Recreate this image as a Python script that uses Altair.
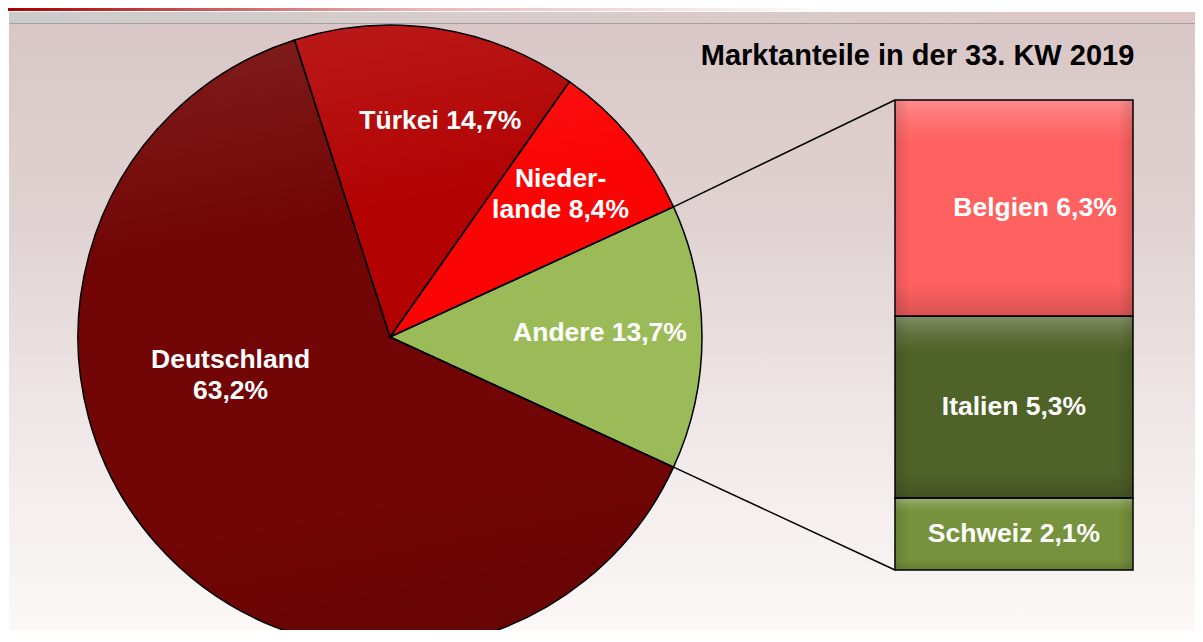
import math
import altair as alt
import pandas as pd

# ---------------- data ----------------
pie_names = ["Türkei", "Niederlande", "Andere", "Deutschland"]
pie_label_names = ["Türkei", "Nieder-\nlande", "Andere", "Deutschland"]
pie_label_sep = [" ", " ", " ", "\n"]
pie_values = [14.7, 8.4, 13.7, 63.2]
pie_colors = ["#b30202", "#fb0404", "#9bbb59", "#720505"]

bar_names = ["Belgien", "Italien", "Schweiz"]
bar_values = [6.3, 5.3, 2.1]
bar_colors = ["#ff6060", "#4f6228", "#76923c"]

title_text = "Marktanteile in der 33. KW 2019"
FONT = "Liberation Sans"


def pct(v):
    return f"{v:.1f}%".replace(".", ",")


# ---------------- layout ----------------
W, H = 1187, 622
CX, CY, R = 382, 329, 312
BAR_X0, BAR_X1, BAR_TOP, BAR_BOTTOM = 887, 1125, 92, 562
BAR_XC = (BAR_X0 + BAR_X1) / 2
LINE_H = 31

PIE_TOTAL = sum(pie_values)
BAR_TOTAL = sum(bar_values)
idx_other = pie_names.index("Andere")
before_other = sum(pie_values[:idx_other])
# rotate the pie so that the "Andere" slice is centred at 3 o'clock
START = math.pi / 2 - 2 * math.pi * (before_other + pie_values[idx_other] / 2) / PIE_TOTAL

labels = [n + s + pct(v) for n, s, v in zip(pie_label_names, pie_label_sep, pie_values)]
pie_df = pd.DataFrame({
    "name": pie_names,
    "value": pie_values,
    "ord": list(range(len(pie_names))),
    "label": labels,
})
cum = 0.0
mids = []
for v in pie_values:
    mids.append(START + 2 * math.pi * (cum + v / 2) / PIE_TOTAL)
    cum += v

# label placement (radius, dx, dy) per slice
label_place = {"Türkei": (222, 17, 3), "Niederlande": (222, 0, 0),
               "Andere": (210, 0, -4), "Deutschland": (165, -36, -71)}
pie_df["lx"] = [CX + label_place[n][0] * math.sin(m) + label_place[n][1]
                for n, m in zip(pie_names, mids)]
pie_df["ly"] = [CY - label_place[n][0] * math.cos(m) + label_place[n][2]
                - LINE_H / 2 * lab.count("\n")
                for n, m, lab in zip(pie_names, mids, labels)]

bar_df = pd.DataFrame({
    "name": bar_names,
    "value": bar_values,
    "ord": list(range(len(bar_names))),
    "label": [n + " " + pct(v) for n, v in zip(bar_names, bar_values)],
})

a_start = START + 2 * math.pi * before_other / PIE_TOTAL
a_end = a_start + 2 * math.pi * pie_values[idx_other] / PIE_TOTAL
conn_df = pd.DataFrame({
    "x": [CX + R * math.sin(a_start), CX + R * math.sin(a_end)],
    "y": [CY - R * math.cos(a_start), CY - R * math.cos(a_end)],
    "x2": [BAR_X0, BAR_X0],
    "y2": [BAR_TOP, BAR_BOTTOM],
})

one = pd.DataFrame({"k": [0]})


def grad(stops, x1=0, y1=0, x2=0, y2=1):
    return alt.Gradient(gradient="linear", x1=x1, y1=y1, x2=x2, y2=y2,
                        stops=[alt.GradientStop(offset=o, color=c) for o, c in stops])


# ---------------- background ----------------
bg_photo = alt.Chart(one).mark_rect(
    fill=grad([(0, "#d9c7c7"), (0.35, "#e1d3d3"), (0.65, "#efe7e7"), (1, "#fbf8f7")])
).encode(x=alt.value(1), x2=alt.value(W), y=alt.value(16), y2=alt.value(H))

top_red = alt.Chart(one).mark_rect(
    fill=grad([(0, "#a80000"), (0.15, "#c85050"), (0.35, "#e8b8b8"), (0.7, "#ffffff"), (1, "#ffffff")], x2=1, y2=0)
).encode(x=alt.value(0), x2=alt.value(W), y=alt.value(0), y2=alt.value(3))

top_band = alt.Chart(one).mark_rect(
    fill=grad([(0, "#cbcbcb"), (0.4, "#d9cccc"), (1, "#dcc6c6")], x2=1, y2=0)
).encode(x=alt.value(1), x2=alt.value(W), y=alt.value(4), y2=alt.value(16))

top_line = alt.Chart(one).mark_rule(color="#a8a0a0", strokeWidth=1).encode(
    x=alt.value(1), x2=alt.value(W), y=alt.value(15.5))

# ---------------- pie ----------------
theta_scale = alt.Scale(domain=[0, PIE_TOTAL], range=[START, START + 2 * math.pi])
pie = alt.Chart(pie_df).mark_arc(outerRadius=R, strokeWidth=0).encode(
    theta=alt.Theta("value:Q", stack=True, scale=theta_scale),
    color=alt.Color("name:N", scale=alt.Scale(domain=pie_names, range=pie_colors), legend=None),
    order=alt.Order("ord:Q"),
    x=alt.value(CX), y=alt.value(CY),
)

pie_shade = alt.Chart(one).mark_arc(
    outerRadius=R, theta=0, theta2=2 * math.pi, strokeWidth=0,
    fill=grad([(0, "rgba(255,255,255,0.09)"), (0.3, "rgba(255,255,255,0.0)"),
               (0.75, "rgba(0,0,0,0.0)"), (1, "rgba(0,0,0,0.10)")], x1=0.4, y1=0, x2=0.6, y2=1),
).encode(x=alt.value(CX), y=alt.value(CY))

pie_outline = alt.Chart(pie_df).mark_arc(outerRadius=R, stroke="black", strokeWidth=1.5,
                                         fill="transparent").encode(
    theta=alt.Theta("value:Q", stack=True, scale=theta_scale),
    order=alt.Order("ord:Q"),
    x=alt.value(CX), y=alt.value(CY),
)

connectors = alt.Chart(conn_df).mark_rule(color="black", strokeWidth=1.5).encode(
    x=alt.X("x:Q", scale=None), y=alt.Y("y:Q", scale=None),
    x2="x2:Q", y2="y2:Q",
)

label_style = dict(font=FONT, fontWeight="bold", fontSize=26.5, color="white",
                   align="center", baseline="middle", lineBreak="\n", lineHeight=LINE_H)
pie_labels = alt.Chart(pie_df).mark_text(**label_style).encode(
    x=alt.X("lx:Q", scale=None), y=alt.Y("ly:Q", scale=None), text="label:N")

# ---------------- bar of pie ----------------
ysc = alt.Scale(domain=[0, BAR_TOTAL], range=[BAR_BOTTOM, BAR_TOP], nice=False, zero=False)
bar_base = alt.Chart(bar_df).transform_window(
    end="sum(value)", sort=[alt.SortField("ord", order="descending")]
).transform_calculate(start="datum.end - datum.value", mid="datum.end - datum.value / 2")

bars = bar_base.mark_rect(strokeWidth=0).encode(
    x=alt.value(BAR_X0), x2=alt.value(BAR_X1),
    y=alt.Y("start:Q", scale=ysc, axis=None), y2="end:Q",
    color=alt.Color("name:N", scale=alt.Scale(domain=bar_names, range=bar_colors), legend=None),
)
bar_shade_v = bar_base.mark_rect(
    fill=grad([(0, "rgba(255,255,255,0.28)"), (0.10, "rgba(255,255,255,0.10)"), (0.2, "rgba(255,255,255,0)"),
               (0.85, "rgba(0,0,0,0)"), (1, "rgba(0,0,0,0.14)")])
).encode(x=alt.value(BAR_X0 + 1), x2=alt.value(BAR_X1 - 1),
         y=alt.Y("start:Q", scale=ysc, axis=None), y2="end:Q")
bar_shade_h = bar_base.mark_rect(
    fill=grad([(0, "rgba(0,0,0,0.10)"), (0.06, "rgba(0,0,0,0)"), (0.94, "rgba(0,0,0,0)"),
               (1, "rgba(0,0,0,0.12)")], x2=1, y2=0)
).encode(x=alt.value(BAR_X0 + 1), x2=alt.value(BAR_X1 - 1),
         y=alt.Y("start:Q", scale=ysc, axis=None), y2="end:Q")
bar_outline = bar_base.mark_rect(stroke="black", strokeWidth=1.5, fill="transparent").encode(
    x=alt.value(BAR_X0), x2=alt.value(BAR_X1),
    y=alt.Y("start:Q", scale=ysc, axis=None), y2="end:Q")

bar_label_top = bar_base.transform_filter("datum.ord == 0").mark_text(dx=21, **label_style).encode(
    x=alt.value(BAR_XC), y=alt.Y("mid:Q", scale=ysc, axis=None), text="label:N")
bar_label_rest = bar_base.transform_filter("datum.ord > 0").mark_text(**label_style).encode(
    x=alt.value(BAR_XC), y=alt.Y("mid:Q", scale=ysc, axis=None), text="label:N")

title = alt.Chart(pd.DataFrame({"t": [title_text]})).mark_text(
    font=FONT, fontWeight="bold", fontSize=29, color="black", align="center", baseline="middle"
).encode(x=alt.value(909.5), y=alt.value(48), text="t:N")

chart = alt.layer(
    bg_photo, top_red, top_band, top_line,
    pie, pie_shade, pie_outline, connectors, pie_labels,
    bars, bar_shade_v, bar_shade_h, bar_outline, bar_label_top, bar_label_rest,
    title,
).resolve_scale(
    x="independent", y="independent", color="independent"
).properties(
    width=W, height=H, padding=0, background="white",
    autosize=alt.AutoSizeParams(type="none"),
).configure_view(stroke=None)

chart.save("out.html", embed_options={"renderer": "svg", "actions": False})
